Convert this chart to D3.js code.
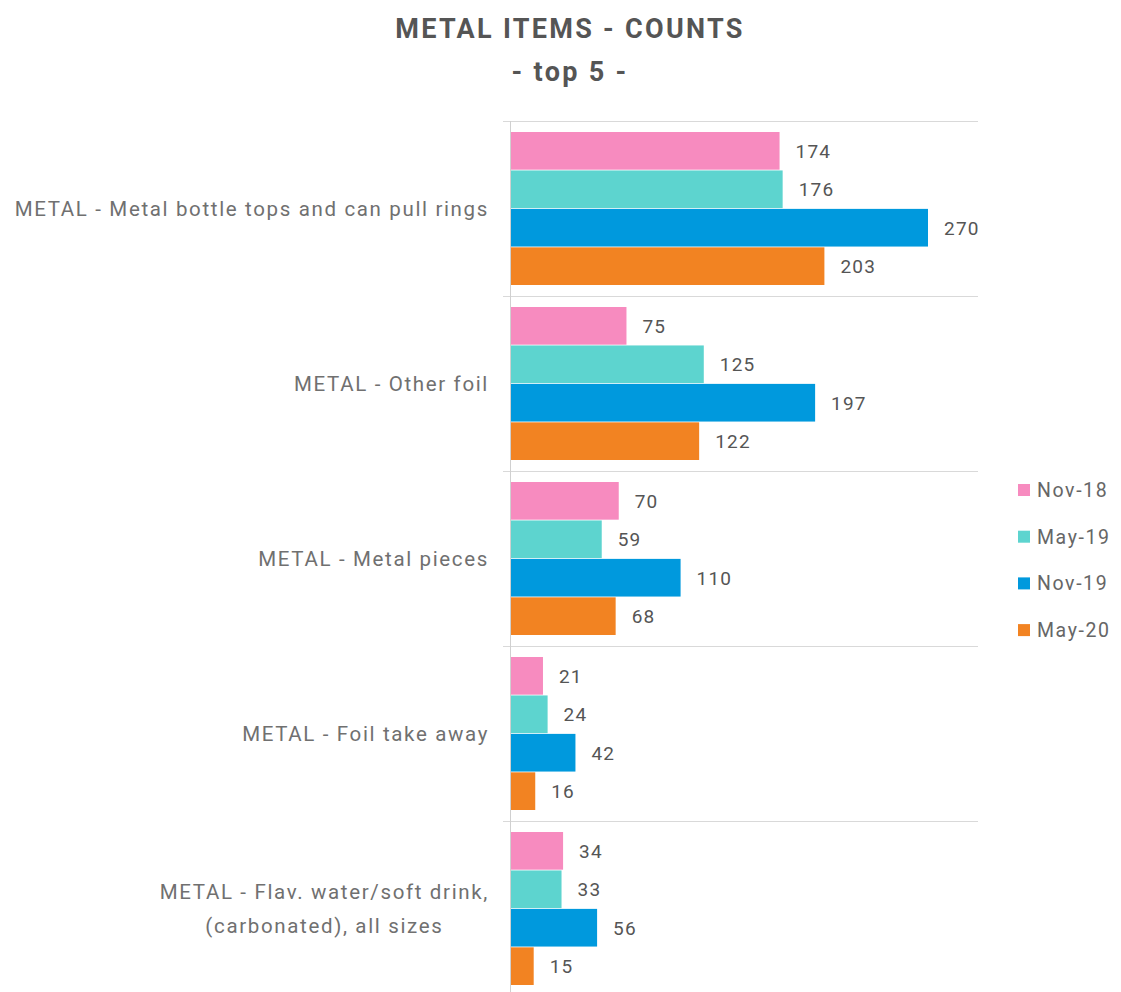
<!DOCTYPE html>
<html><head><meta charset="utf-8">
<script src="https://cdnjs.cloudflare.com/ajax/libs/d3/7.8.5/d3.min.js"></script>
<style>body{margin:0;background:#fff;}svg{display:block;}</style>
</head><body>
<svg id="c" width="1121" height="992"></svg>
<script>
const categories = [
  ["METAL - Metal bottle tops and can pull rings"],
  ["METAL - Other foil"],
  ["METAL - Metal pieces"],
  ["METAL - Foil take away"],
  ["METAL - Flav. water/soft drink,", "(carbonated), all sizes"]
];
const seriesNames = ["Nov-18", "May-19", "Nov-19", "May-20"];
const nov18 = [174, 75, 70, 21, 34];
const may19 = [176, 125, 59, 24, 33];
const nov19 = [270, 197, 110, 42, 56];
const may20 = [203, 122, 68, 16, 15];
const seriesValues = [nov18, may19, nov19, may20];
const colors = ["#F78BBF", "#5DD4CF", "#0099DD", "#F28322"];

const svg = d3.select("#c");
const font = "Roboto, 'DejaVu Sans', sans-serif";
const x0 = 510.5, plotTop = 121;
const x = d3.scaleLinear().domain([0, 270]).range([x0, 928]);
const y = d3.scaleBand().domain(d3.range(categories.length)).range([plotTop, plotTop + 175 * 5]).paddingInner(0).paddingOuter(0);
const inner = d3.scaleBand().domain(d3.range(4)).range([11, 164]).paddingInner(0.02);

svg.append("text").attr("x", 570).attr("y", 38).attr("text-anchor", "middle")
  .attr("font-family", font).attr("font-weight", "bold").attr("font-size", 27).attr("fill", "#555")
  .attr("letter-spacing", 2.3).text("METAL ITEMS - COUNTS");
svg.append("text").attr("x", 570).attr("y", 81).attr("text-anchor", "middle")
  .attr("font-family", font).attr("font-weight", "bold").attr("font-size", 27).attr("fill", "#555")
  .attr("letter-spacing", 2.3).text("- top 5 -");

const g = svg.append("g");
d3.range(categories.length).forEach(i => {
  g.append("line").attr("x1", 503).attr("x2", 978)
    .attr("y1", y(i) + 0.5).attr("y2", y(i) + 0.5).attr("stroke", "#d9d9d9").attr("stroke-width", 1);
});

const labelRight = 489;
categories.forEach((c, i) => {
  seriesValues.forEach((vals, s) => {
    const by = y(i) + inner(s);
    g.append("rect").attr("x", x(0)).attr("y", by).attr("width", x(vals[i]) - x(0))
      .attr("height", inner.bandwidth()).attr("fill", colors[s]);
    g.append("text").attr("x", x(vals[i]) + 16).attr("y", by + inner.bandwidth() / 2 + 7)
      .attr("font-family", font).attr("font-size", 19).attr("letter-spacing", 1.2)
      .attr("fill", "#555").text(vals[i]);
  });
  const cy = y(i) + y.bandwidth() / 2;
  const n = c.length;
  const texts = c.map((line, k) => g.append("text")
      .attr("y", cy + 7.5 + (k - (n - 1) / 2) * 34)
      .attr("font-family", font).attr("font-size", 20.5)
      .attr("letter-spacing", 1.65).attr("fill", "#707070")
      .text(line));
  const widths = texts.map(t => t.node().getComputedTextLength());
  const maxW = d3.max(widths);
  const centerX = labelRight - maxW / 2;
  texts.forEach(t => t.attr("x", centerX).attr("text-anchor", "middle"));
});

g.append("line").attr("x1", x0).attr("x2", x0).attr("y1", plotTop).attr("y2", 992)
  .attr("stroke", "#d0d0d0").attr("stroke-width", 1);

seriesNames.forEach((n, s) => {
  const ly = 490 + s * 46.7;
  svg.append("rect").attr("x", 1018).attr("y", ly - 6).attr("width", 12).attr("height", 12).attr("fill", colors[s]);
  svg.append("text").attr("x", 1037).attr("y", ly + 7).attr("font-family", font).attr("font-size", 19.5)
    .attr("letter-spacing", 1.6).attr("fill", "#666").text(n);
});
</script>
</body></html>
